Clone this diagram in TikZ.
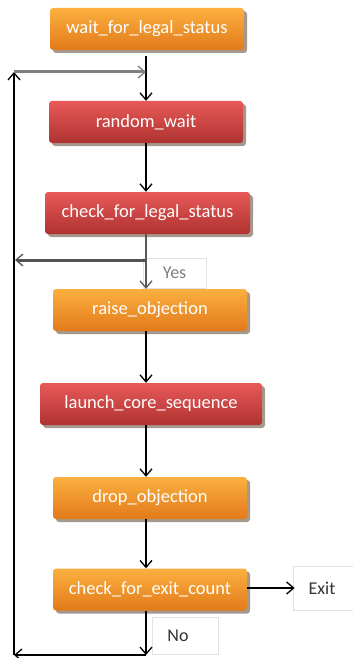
\documentclass[tikz,border=0pt]{standalone}
\usepackage{fontspec}
\setmainfont{Carlito}
\usetikzlibrary{arrows.meta,shadows}
\definecolor{orTop}{HTML}{FBB040}
\definecolor{orMid}{HTML}{F7931E}
\definecolor{orBot}{HTML}{E27A1A}
\definecolor{rdTop}{HTML}{E85A58}
\definecolor{rdMid}{HTML}{D63D3B}
\definecolor{rdBot}{HTML}{AE3230}
\definecolor{shd}{HTML}{8E8070}
\definecolor{lblborder}{HTML}{E2E2E2}
\begin{document}
\begin{tikzpicture}[x=1pt,y=-1pt,
  box/.style={rounded corners=3pt, minimum height=42pt, inner sep=0pt,
    text=white, font=\fontsize{18.5}{21}\selectfont,
    drop shadow={shadow xshift=3pt, shadow yshift=-3pt, fill=shd, opacity=0.8}},
  orangebox/.style={box, top color=orTop, middle color=orMid, bottom color=orBot},
  redbox/.style={box, top color=rdTop, middle color=rdMid, bottom color=rdBot},
  lbl/.style={draw=lblborder, line width=0.8pt, inner sep=0pt, font=\fontsize{18}{21}\selectfont},
  arr/.style={line width=1.5pt, -{Straight Barb[length=7pt,width=12pt,line width=1.3pt]}},
  grayarr/.style={arr, draw=black!55, line width=3pt},
  ]
\useasboundingbox (0,0) rectangle (353,658);
\fill[white] (0,0) rectangle (353,658);
\coordinate (axis) at (146,0);

\node[orangebox, minimum width=194pt] (b1) at (147,29) {wait\_for\_legal\_status};
\node[redbox, minimum width=194pt] (b2) at (146,122) {random\_wait};
\node[redbox, minimum width=205pt] (b3) at (147.5,213) {check\_for\_legal\_status};
\node[orangebox, minimum width=194pt] (b4) at (150,310) {raise\_objection};
\node[redbox, minimum width=222pt] (b5) at (151,404) {launch\_core\_sequence};
\node[orangebox, minimum width=194pt] (b6) at (150,498) {drop\_objection};
\node[orangebox, minimum width=194pt] (b7) at (150,589.5) {check\_for\_exit\_count};

\node[lbl, minimum width=63pt, minimum height=30pt, text=black!50] (yes) at (174.5,273) {\raisebox{-4pt}{Yes}};
\node[lbl, minimum width=62pt, minimum height=44pt, text=black!80] (exit) at (324,588) {\hspace*{-4pt}Exit};
\node[lbl, minimum width=66pt, minimum height=37pt, text=black!80] (no) at (185,635.5) {\hspace*{-14pt}\raisebox{-3pt}{No}};

\coordinate (j1) at (146,72);
\coordinate (lp) at (14,72);
\coordinate (j2) at (146,260);
\coordinate (yl) at (15,260);
\coordinate (nb) at (146,655);
\coordinate (bl) at (14,655);

% main flow
\draw[arr] ([yshift=-6pt]b1.south -| axis) -- (b2.north -| axis);
\draw[arr] (b2.south -| axis) -- (b3.north -| axis);
\draw[arr, draw=black!65, line width=2pt] (b3.south -| axis) -- (b4.north -| axis);
\draw[arr] (b4.south -| axis) -- (b5.north -| axis);
\draw[arr] (b5.south -| axis) -- (b6.north -| axis);
\draw[arr] (b6.south -| axis) -- (b7.north -| axis);
% yes branch to the left
\draw[grayarr, draw=black!68] (j2) -- (yl);
% exit
\draw[arr, line width=2pt] (b7.east |- exit.west) -- ([xshift=2pt]exit.west);
% no loop
\draw[arr] (b7.south -| axis) -- (nb);
\draw[arr] (nb) -- (bl);
\draw[arr] (bl) -- (lp);
\draw[grayarr, draw=black!50] (lp) -- (j1);
\end{tikzpicture}
\end{document}
